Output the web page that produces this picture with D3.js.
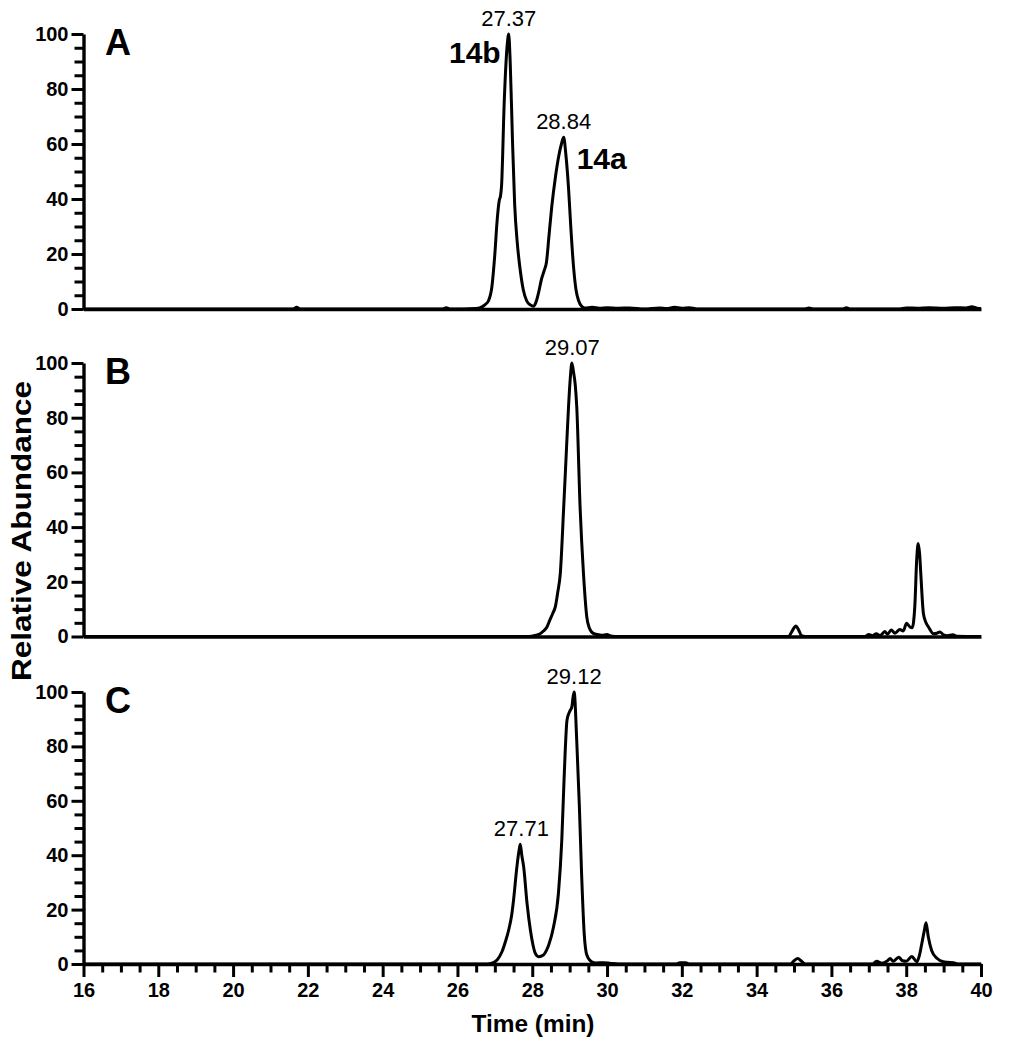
<!DOCTYPE html>
<html>
<head>
<meta charset="utf-8">
<script src="https://cdn.jsdelivr.net/npm/d3@7"></script>
<style>
  html, body { margin: 0; padding: 0; background: #fff; }
  svg { display: block; font-family: "Liberation Sans", Arial, Helvetica, sans-serif; }
</style>
</head>
<body>
<svg id="chart" width="1018" height="1050"></svg>
<script>
// ---------- data ----------
const timeA = [16.0, 21.6, 21.7, 21.8, 25.6, 25.7, 25.8, 26.5, 26.61, 26.74, 26.83, 26.92, 27.0, 27.06, 27.12, 27.15, 27.18, 27.25, 27.33, 27.37, 27.41, 27.47, 27.53, 27.6, 27.68, 27.76, 27.85, 27.95, 28.03, 28.1, 28.17, 28.25, 28.32, 28.38, 28.45, 28.52, 28.62, 28.7, 28.78, 28.84, 28.9, 28.97, 29.03, 29.1, 29.17, 29.24, 29.32, 29.4, 29.6, 29.8, 30.0, 30.3, 30.6, 31.0, 31.4, 31.6, 31.8, 32.0, 32.2, 32.4, 33.0, 35.3, 35.4, 35.5, 36.3, 36.4, 36.5, 37.8, 38.0, 38.3, 38.6, 39.0, 39.3, 39.6, 39.75, 39.9, 40.0];
const valueA = [0, 0, 0.6, 0, 0, 0.5, 0, 0.2, 0.5, 1.6, 3, 8, 20, 32, 39.6, 41, 45, 75, 96, 100, 90, 62, 38, 24, 14, 7, 3, 1.5, 1.0, 2.5, 6, 11, 14, 17, 27, 37, 48, 55, 60, 62.5, 56, 44, 30, 16, 7, 3, 1, 0.4, 0.6, 0.3, 0.5, 0.3, 0.4, 0, 0.4, 0.2, 0.6, 0.3, 0.5, 0, 0, 0, 0.4, 0, 0, 0.5, 0, 0, 0.4, 0.3, 0.5, 0.3, 0.5, 0.4, 0.8, 0.3, 0.2];

const timeB = [16.0, 27.9, 28.1, 28.21, 28.3, 28.39, 28.47, 28.55, 28.62, 28.68, 28.75, 28.84, 28.92, 28.97, 29.02, 29.06, 29.1, 29.15, 29.19, 29.28, 29.37, 29.46, 29.53, 29.59, 29.7, 29.85, 30.0, 30.1, 30.3, 34.85, 34.95, 35.05, 35.12, 35.2, 35.3, 36.9, 37.0, 37.1, 37.2, 37.3, 37.43, 37.5, 37.6, 37.7, 37.83, 37.92, 38.01, 38.1, 38.16, 38.23, 38.28, 38.32, 38.36, 38.39, 38.46, 38.53, 38.6, 38.73, 38.82, 38.9, 39.0, 39.1, 39.25, 39.35, 40.0];
const valueB = [0, 0, 0.5, 1, 2, 3.4, 6, 8.5, 11, 16, 23, 47, 70, 84, 95, 100, 97, 92, 84, 47, 23, 7, 3, 1.6, 0.8, 0.5, 0.7, 0.2, 0, 0, 2, 3.8, 2.5, 0.3, 0, 0, 0.7, 0.3, 1, 0.3, 1.8, 0.8, 2.4, 1.2, 2.6, 2, 4.8, 3.5, 3.2, 11, 28, 34, 30, 23, 8.4, 5, 3.4, 1, 1.2, 1.6, 0.6, 0.3, 0.6, 0.1, 0];

const timeC = [16.0, 26.8, 26.92, 27.06, 27.19, 27.3, 27.37, 27.45, 27.5, 27.59, 27.65, 27.68, 27.72, 27.77, 27.86, 27.95, 28.02, 28.08, 28.17, 28.3, 28.38, 28.44, 28.57, 28.7, 28.79, 28.85, 28.93, 29.0, 29.06, 29.09, 29.12, 29.19, 29.26, 29.32, 29.39, 29.46, 29.59, 29.7, 29.9, 30.1, 30.3, 31.85, 31.95, 32.1, 32.2, 34.9, 35.0, 35.1, 35.2, 35.3, 37.1, 37.21, 37.35, 37.5, 37.57, 37.65, 37.8, 37.9, 38.0, 38.15, 38.28, 38.35, 38.41, 38.48, 38.53, 38.59, 38.68, 38.83, 38.99, 39.1, 39.26, 39.4, 40.0];
const valueC = [0, 0, 0.3, 1.5, 4.5, 9, 12.5, 18, 23.5, 35.8, 42, 44, 40, 35.8, 22.4, 12.5, 7, 4, 2.7, 3.3, 5, 7, 13.7, 26, 45.6, 67.6, 89.7, 92.8, 94.6, 98, 100, 82, 58, 33, 11, 3.3, 0.8, 0.4, 0.5, 0.2, 0, 0, 0.5, 0.5, 0, 0, 1.2, 2, 1.0, 0, 0, 1, 0.3, 1.2, 2, 1, 2.5, 1.2, 1, 2.8, 0.8, 3, 7, 12, 15.2, 10, 5, 2, 0.8, 0.6, 0.5, 0, 0];

const panelLetters = ["A", "B", "C"];
const peakLabelsA = [{t: 27.37, v: 100, text: "27.37"}, {t: 28.84, v: 62.5, text: "28.84"}];
const peakLabelsB = [{t: 29.07, v: 100, text: "29.07"}];
const peakLabelsC = [{t: 29.12, v: 100, text: "29.12"}, {t: 27.71, v: 44, text: "27.71"}];
const compoundLabels = [{t: 27.37, v: 100, text: "14b"}, {t: 28.84, v: 62.5, text: "14a"}];
const xMajorTicks = [16, 18, 20, 22, 24, 26, 28, 30, 32, 34, 36, 38, 40];
const yMajorTicks = [0, 20, 40, 60, 80, 100];
const xTitle = "Time (min)";
const yTitle = "Relative Abundance";

// ---------- layout ----------
const svg = d3.select("#chart");
const x = d3.scaleLinear().domain([16, 40]).range([83.5, 981]);
const panels = [
  {letter: panelLetters[0], t: timeA, v: valueA, top: 34, bottom: 309, labels: peakLabelsA},
  {letter: panelLetters[1], t: timeB, v: valueB, top: 363, bottom: 636.5, labels: peakLabelsB},
  {letter: panelLetters[2], t: timeC, v: valueC, top: 692, bottom: 964, labels: peakLabelsC}
];
const yMinor = d3.range(0, 101, 5).filter(d => d % 20 !== 0);
const xMinor = d3.range(16, 40.01, 0.5).filter(d => Math.abs(d % 2) > 1e-9);

panels.forEach((p, i) => {
  const y = d3.scaleLinear().domain([0, 100]).range([p.bottom, p.top]);
  p.y = y;
  const g = svg.append("g");

  // trace
  const pts = p.t.map((t, k) => [t, p.v[k]]);
  g.append("path")
    .datum(pts)
    .attr("fill", "none")
    .attr("stroke", "#000")
    .attr("stroke-width", 3)
    .attr("stroke-linejoin", "round")
    .attr("d", d3.line().x(d => x(d[0])).y(d => y(d[1])).curve(d3.curveMonotoneX));

  // y minor ticks
  g.append("g")
    .attr("transform", `translate(${x(16)},0)`)
    .call(d3.axisLeft(y).tickValues(yMinor).tickSize(9).tickFormat(""))
    .call(s => s.select(".domain").remove())
    .call(s => s.selectAll("line").attr("stroke-width", 3));

  // y major axis
  const ya = g.append("g")
    .attr("transform", `translate(${x(16)},0)`)
    .call(d3.axisLeft(y).tickValues(yMajorTicks).tickSize(12).tickSizeOuter(0).tickPadding(3));
  ya.select(".domain").attr("stroke-width", 3.4);
  ya.selectAll("line").attr("stroke-width", 3);
  ya.selectAll("text").attr("font-size", 20).attr("font-weight", "bold")
    .attr("font-family", "Liberation Sans, Arial, sans-serif").attr("fill", "#000");

  // x axis
  if (i < 2) {
    const xa = g.append("g")
      .attr("transform", `translate(0,${p.bottom})`)
      .call(d3.axisBottom(x).tickValues([]).tickSizeOuter(0));
    xa.select(".domain").attr("stroke-width", 3.4);
  } else {
    g.append("g")
      .attr("transform", `translate(0,${p.bottom})`)
      .call(d3.axisBottom(x).tickValues(xMinor).tickSize(8.5).tickFormat(""))
      .call(s => s.select(".domain").remove())
      .call(s => s.selectAll("line").attr("stroke-width", 3));
    const xa = g.append("g")
      .attr("transform", `translate(0,${p.bottom})`)
      .call(d3.axisBottom(x).tickValues(xMajorTicks).tickSize(13).tickSizeOuter(0).tickPadding(6).tickFormat(d3.format("d")));
    xa.select(".domain").attr("stroke-width", 3.4);
    xa.selectAll("line").attr("stroke-width", 3);
    xa.selectAll("text").attr("font-size", 20).attr("font-weight", "bold")
      .attr("font-family", "Liberation Sans, Arial, sans-serif").attr("fill", "#000");
  }

  // panel letter
  g.append("text")
    .attr("x", 105)
    .attr("y", p.top + 21)
    .attr("font-size", 36)
    .attr("font-weight", "bold")
    .text(p.letter);

  // peak labels
  g.selectAll("text.peak")
    .data(p.labels)
    .enter().append("text")
    .attr("class", "peak")
    .attr("x", d => x(d.t))
    .attr("y", d => y(d.v) - 8)
    .attr("text-anchor", "middle")
    .attr("font-size", 22)
    .text(d => d.text);
});

// compound labels in panel A
const yA = panels[0].y;
svg.append("text")
  .attr("x", x(compoundLabels[0].t) - 8)
  .attr("y", yA(compoundLabels[0].v) + 29)
  .attr("text-anchor", "end")
  .attr("font-size", 30).attr("font-weight", "bold")
  .text(compoundLabels[0].text);
svg.append("text")
  .attr("x", x(compoundLabels[1].t) + 13)
  .attr("y", yA(compoundLabels[1].v) + 32)
  .attr("text-anchor", "start")
  .attr("font-size", 30).attr("font-weight", "bold")
  .text(compoundLabels[1].text);

// axis titles
svg.append("text")
  .attr("x", 533)
  .attr("y", 1032)
  .attr("text-anchor", "middle")
  .attr("font-size", 23).attr("font-weight", "bold")
  .attr("textLength", 123).attr("lengthAdjust", "spacingAndGlyphs")
  .text(xTitle);
svg.append("text")
  .attr("transform", "translate(31,531) rotate(-90)")
  .attr("text-anchor", "middle")
  .attr("font-size", 27).attr("font-weight", "bold")
  .attr("textLength", 300).attr("lengthAdjust", "spacingAndGlyphs")
  .text(yTitle);
</script>
</body>
</html>
